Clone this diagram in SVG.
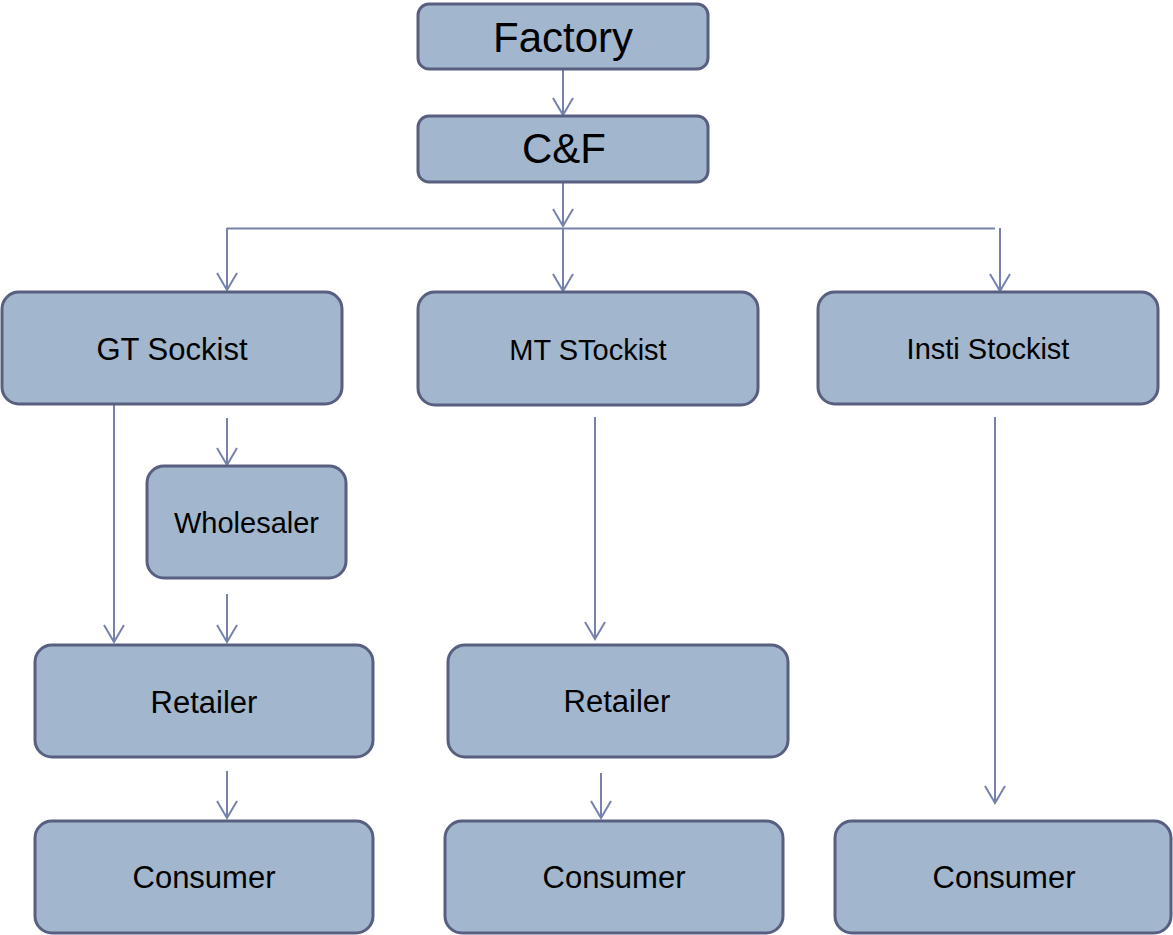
<svg xmlns="http://www.w3.org/2000/svg" width="1173" height="935" viewBox="0 0 1173 935">
  <style>
    .box { fill: #a2b6cd; stroke: #585f80; stroke-width: 3; }
    .lbl { font-family: "Liberation Sans", Arial, sans-serif; fill: #000; text-anchor: middle; }
    .big { font-size: 42px; }
    .mid { font-size: 31px; }
    .sm { font-size: 29px; }
    .wire { fill: none; stroke: #7682ad; stroke-width: 2; }
  </style>
  <defs>
    <marker id="arrow" markerUnits="userSpaceOnUse" markerWidth="24" markerHeight="24" refX="0" refY="0" viewBox="-20 -12 22 24" orient="auto" overflow="visible">
      <path d="M -17 -10 L 0 0 L -17 10" fill="none" stroke="#7682ad" stroke-width="2"/>
    </marker>
  </defs>
  <rect width="1173" height="935" fill="#ffffff"/>

  <!-- connectors -->
  <g id="connectors" class="wire">
    <line x1="563" y1="69" x2="563" y2="115" marker-end="url(#arrow)"/>
    <line x1="563" y1="182" x2="563" y2="226" marker-end="url(#arrow)"/>
    <line x1="563" y1="228" x2="563" y2="291" marker-end="url(#arrow)"/>
    <line x1="227" y1="228.5" x2="995" y2="228.5"/>
    <line x1="227" y1="228" x2="227" y2="290" marker-end="url(#arrow)"/>
    <line x1="1000" y1="228" x2="1000" y2="291" marker-end="url(#arrow)"/>
    <line x1="114" y1="404" x2="114" y2="642" marker-end="url(#arrow)"/>
    <line x1="227" y1="418" x2="227" y2="465" marker-end="url(#arrow)"/>
    <line x1="227" y1="594" x2="227" y2="642" marker-end="url(#arrow)"/>
    <line x1="227" y1="771" x2="227" y2="818" marker-end="url(#arrow)"/>
    <line x1="595" y1="417" x2="595" y2="639" marker-end="url(#arrow)"/>
    <line x1="601" y1="773" x2="601" y2="818" marker-end="url(#arrow)"/>
    <line x1="995" y1="417" x2="995" y2="803" marker-end="url(#arrow)"/>
  </g>

  <g id="factory">
    <rect class="box" x="418" y="4" width="290" height="65" rx="11"/>
    <text class="lbl big" x="563" y="52">Factory</text>
  </g>
  <g id="cf">
    <rect class="box" x="418" y="116" width="290" height="66" rx="11"/>
    <text class="lbl big" x="564" y="163">C&amp;F</text>
  </g>
  <g id="gt-stockist">
    <rect class="box" x="2" y="292" width="340" height="112" rx="17"/>
    <text class="lbl mid" x="172" y="360">GT Sockist</text>
  </g>
  <g id="mt-stockist">
    <rect class="box" x="418" y="292" width="340" height="113" rx="17"/>
    <text class="lbl sm" x="588" y="360">MT STockist</text>
  </g>
  <g id="insti-stockist">
    <rect class="box" x="818" y="292" width="340" height="112" rx="17"/>
    <text class="lbl sm" x="988" y="359">Insti Stockist</text>
  </g>
  <g id="wholesaler">
    <rect class="box" x="147" y="466" width="199" height="112" rx="17"/>
    <text class="lbl sm" x="246.5" y="533">Wholesaler</text>
  </g>
  <g id="gt-retailer">
    <rect class="box" x="35" y="645" width="338" height="112" rx="17"/>
    <text class="lbl mid" x="204" y="713">Retailer</text>
  </g>
  <g id="mt-retailer">
    <rect class="box" x="448" y="645" width="340" height="112" rx="17"/>
    <text class="lbl mid" x="617" y="712">Retailer</text>
  </g>
  <g id="gt-consumer">
    <rect class="box" x="35" y="821" width="338" height="112" rx="17"/>
    <text class="lbl mid" x="204" y="888">Consumer</text>
  </g>
  <g id="mt-consumer">
    <rect class="box" x="445" y="821" width="338" height="112" rx="17"/>
    <text class="lbl mid" x="614" y="888">Consumer</text>
  </g>
  <g id="insti-consumer">
    <rect class="box" x="835" y="821" width="336" height="112" rx="17"/>
    <text class="lbl mid" x="1004" y="888">Consumer</text>
  </g>
</svg>
